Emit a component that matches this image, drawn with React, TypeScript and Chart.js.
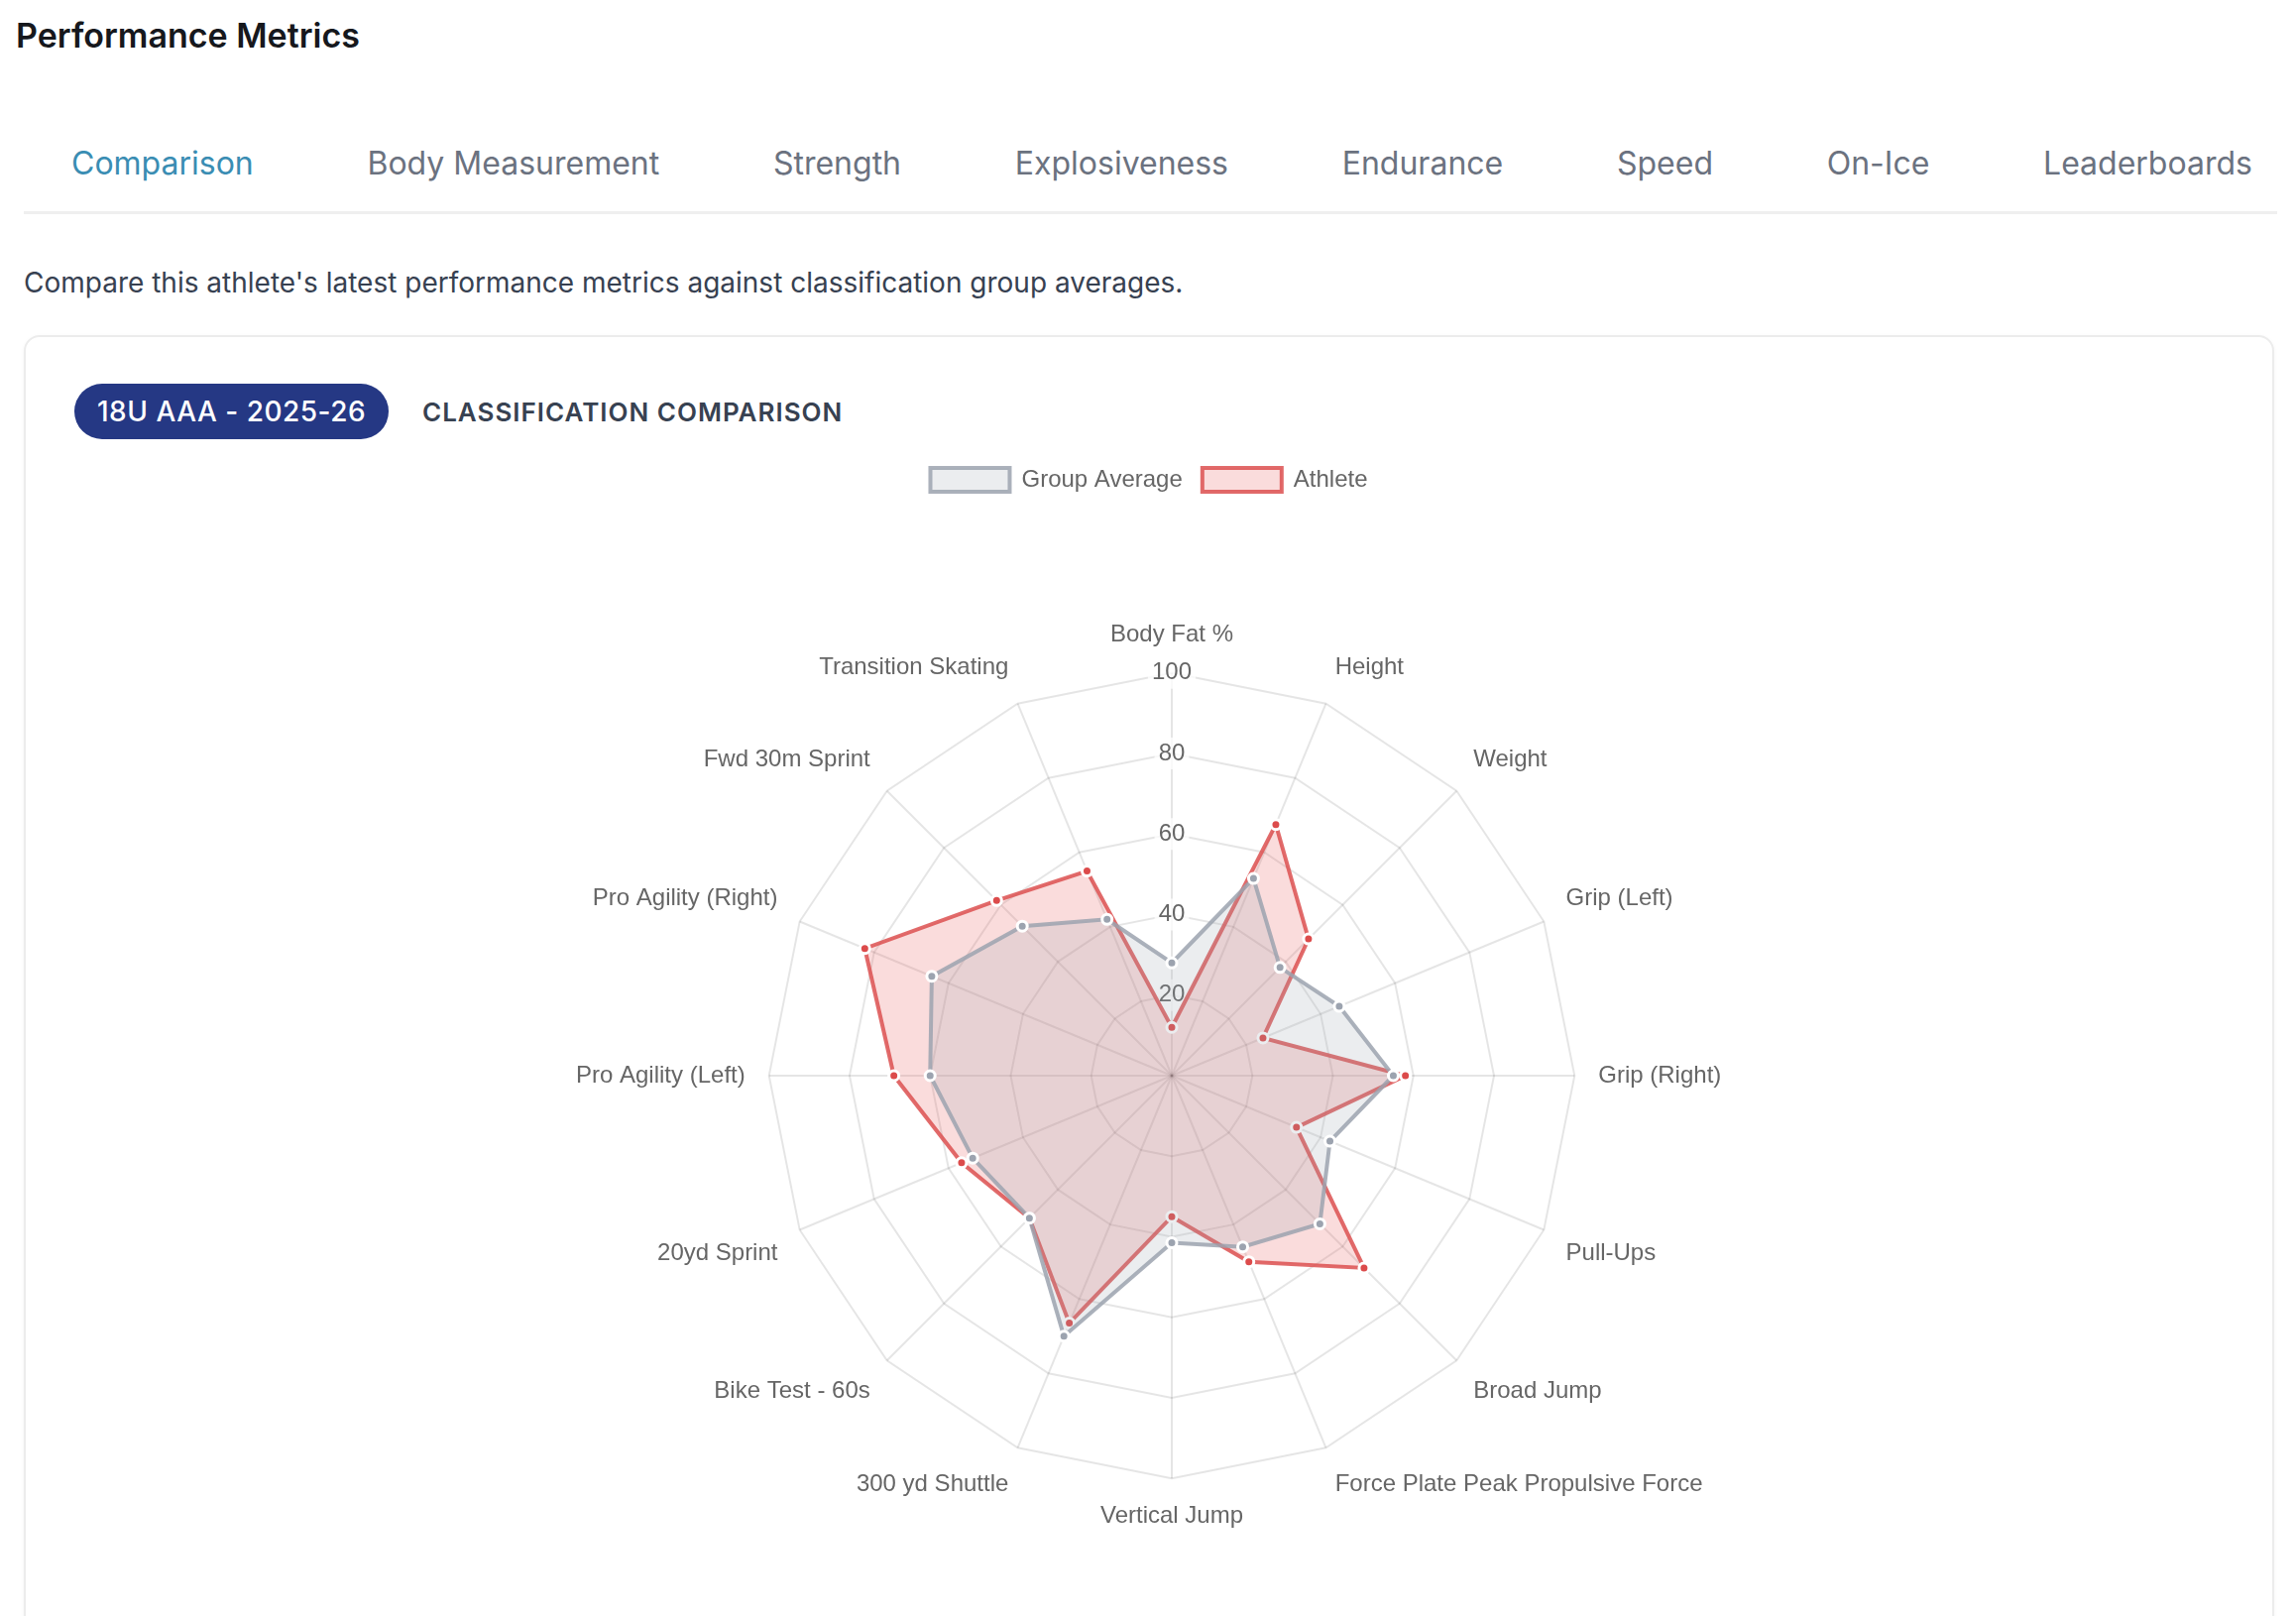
import React, { useEffect, useRef } from 'react';
import { Chart, registerables } from 'chart.js';

Chart.register(...registerables);

const categories = [
  'Body Fat %',
  'Height',
  'Weight',
  'Grip (Left)',
  'Grip (Right)',
  'Pull-Ups',
  'Broad Jump',
  'Force Plate Peak Propulsive Force',
  'Vertical Jump',
  '300 yd Shuttle',
  'Bike Test - 60s',
  '20yd Sprint',
  'Pro Agility (Left)',
  'Pro Agility (Right)',
  'Fwd 30m Sprint',
  'Transition Skating',
];

const groupAverage = [28, 53, 38, 45, 55, 42.5, 52, 46, 41.5, 70, 50, 53.5, 60, 64.5, 52.5, 42];
const athlete = [12, 67.5, 48, 24.5, 58, 33.5, 67.5, 50, 35, 66.5, 50, 56.5, 69, 82.5, 61.5, 55];

const seriesNames = ['Group Average', 'Athlete'];
const tabs = ['Comparison', 'Body Measurement', 'Strength', 'Explosiveness', 'Endurance', 'Speed', 'On-Ice', 'Leaderboards'];
const scaleMin = 0;
const scaleMax = 100;
const scaleStep = 20;

const chartFont = "'Liberation Sans', Arial, Helvetica, sans-serif";
const uiFont = "Inter, 'Noto Sans', sans-serif";

function RadarChart() {
  const ref = useRef<HTMLCanvasElement | null>(null);
  useEffect(() => {
    if (!ref.current) return;
    const chart = new Chart(ref.current, {
      type: 'radar',
      data: {
        labels: categories,
        datasets: [
          {
            label: seriesNames[0],
            data: groupAverage,
            borderColor: 'rgba(156,163,175,0.85)',
            backgroundColor: 'rgba(156,163,175,0.2)',
            borderWidth: 4,
            pointRadius: 5,
            pointBorderWidth: 3,
            pointBackgroundColor: '#9ca3af',
            pointBorderColor: '#ffffff',
            fill: true,
          },
          {
            label: seriesNames[1],
            data: athlete,
            borderColor: 'rgba(220,80,80,0.85)',
            backgroundColor: 'rgba(230,80,80,0.2)',
            borderWidth: 4,
            pointRadius: 5,
            pointBorderWidth: 3,
            pointBackgroundColor: '#dc4b4b',
            pointBorderColor: '#ffffff',
            fill: true,
          },
        ],
      },
      options: {
        responsive: false,
        maintainAspectRatio: false,
        animation: false,
        devicePixelRatio: 1,
        plugins: {
          legend: {
            display: true,
            position: 'top',
            labels: {
              color: '#666',
              font: { family: chartFont, size: 24 },
              boxWidth: 80,
              boxHeight: 24,
              padding: 20,
            },
          },
          tooltip: { enabled: false },
        },
        scales: {
          r: {
            min: scaleMin,
            max: scaleMax,
            ticks: {
              stepSize: scaleStep,
              color: '#666',
              font: { family: chartFont, size: 24 },
              backdropPadding: 4,
              backdropColor: 'rgba(255,255,255,0.75)',
            },
            grid: { color: 'rgba(0,0,0,0.1)', lineWidth: 2 },
            angleLines: { color: 'rgba(0,0,0,0.1)', lineWidth: 2 },
            pointLabels: {
              color: '#666',
              font: { family: chartFont, size: 24 },
              padding: 8,
            },
          },
        },
      },
    });
    return () => chart.destroy();
  }, []);
  return (
    <canvas
      ref={ref}
      width={1202}
      height={1212}
      style={{ position: 'absolute', left: 558, top: 452, width: 1202, height: 1212 }}
    />
  );
}

export default function App() {
  return (
    <div
      style={{
        position: 'absolute',
        left: 0,
        top: 0,
        width: 2316,
        height: 1630,
        overflow: 'hidden',
        background: '#ffffff',
        fontFamily: uiFont,
      }}
    >
      <div
        style={{
          position: 'absolute',
          left: 16,
          top: 19,
          fontSize: 34,
          lineHeight: 1,
          fontWeight: 600,
          color: '#16181d',
          whiteSpace: 'nowrap',
        }}
      >
        Performance Metrics
      </div>

      <div
        style={{
          position: 'absolute',
          left: 24,
          top: 149,
          width: 2273,
          boxSizing: 'border-box',
          paddingLeft: 48,
          paddingRight: 25,
          display: 'flex',
          justifyContent: 'space-between',
          fontSize: 32,
          lineHeight: 1,
          whiteSpace: 'nowrap',
        }}
      >
        {tabs.map((t, i) => (
          <span key={t} style={{ color: i === 0 ? '#3a8db3' : '#6b7280', fontWeight: 400 }}>
            {t}
          </span>
        ))}
      </div>

      <div
        style={{
          position: 'absolute',
          left: 24,
          top: 213,
          width: 2273,
          height: 3,
          background: '#efefef',
        }}
      />

      <div
        style={{
          position: 'absolute',
          left: 24,
          top: 271,
          fontSize: 28,
          lineHeight: 1,
          color: '#374151',
          whiteSpace: 'nowrap',
        }}
      >
        Compare this athlete's latest performance metrics against classification group averages.
      </div>

      <div
        style={{
          position: 'absolute',
          left: 24,
          top: 338,
          width: 2270,
          height: 1500,
          boxSizing: 'border-box',
          border: '2px solid #ececec',
          borderRadius: 16,
          boxShadow: '0 1px 4px rgba(0,0,0,0.04)',
          background: '#ffffff',
        }}
      />

      <div
        style={{
          position: 'absolute',
          left: 75,
          top: 387,
          width: 317,
          height: 56,
          borderRadius: 28,
          background: '#253884',
          color: '#ffffff',
          display: 'flex',
          alignItems: 'center',
          justifyContent: 'center',
          fontSize: 28,
          fontWeight: 500,
          letterSpacing: 0.5,
          whiteSpace: 'nowrap',
        }}
      >
        18U AAA - 2025-26
      </div>

      <div
        style={{
          position: 'absolute',
          left: 426,
          top: 403,
          fontSize: 26,
          lineHeight: 1,
          fontWeight: 600,
          letterSpacing: 1.0,
          color: '#374151',
          whiteSpace: 'nowrap',
        }}
      >
        CLASSIFICATION COMPARISON
      </div>

      <RadarChart />
    </div>
  );
}
